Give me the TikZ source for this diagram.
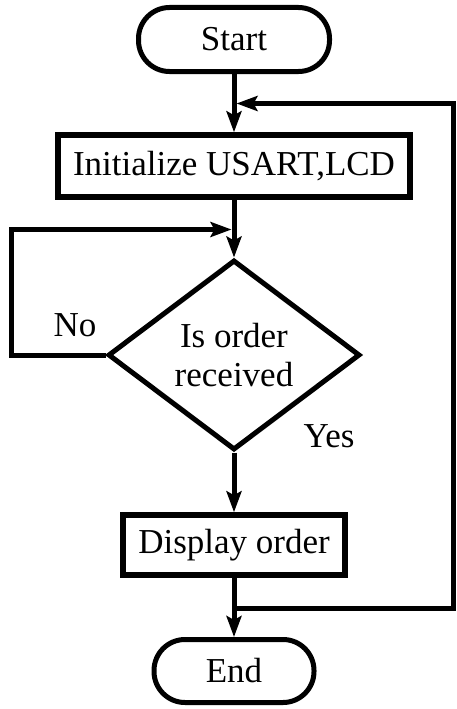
\documentclass[tikz,border=0pt]{standalone}
\usepackage{fontspec}
\setmainfont{Liberation Serif}
\usetikzlibrary{arrows.meta,shapes.geometric}
\begin{document}
\begin{tikzpicture}[x=1pt,y=-1pt,
  every node/.style={font=\fontsize{35}{38.5}\selectfont, inner sep=0pt},
  box/.style={draw, line width=5.5pt, rectangle},
  term/.style={draw, line width=5pt, rectangle, rounded corners=31pt},
  decision/.style={draw, line width=5pt, diamond, align=center},
  flow/.style={line width=5pt, -{Stealth[length=21pt,width=15pt,inset=4pt]}},
  label/.style={}
]
\useasboundingbox (0,0) rectangle (456,709);

% process steps
\node[term, minimum width=191pt, minimum height=64pt] (start) at (234,39.5) {Start};
\node[box, minimum width=352pt, minimum height=62pt] (init) at (234,166) {Initialize USART,LCD};
\node[decision, minimum width=252pt, minimum height=190pt] (dec) at (234,355) {Is order\\received};
\node[box, minimum width=222pt, minimum height=60pt] (disp) at (234,545) {Display order};
\node[term, minimum width=160pt, minimum height=63pt] (end) at (234,671) {End};

% branch labels
\node[label] (no) at (75,325) {No};
\node[label] (yes) at (329,436) {Yes};

% junction points and loop corners
\coordinate (topjoin) at (236.5,103.5);
\coordinate (midjoin) at (231.5,229.5);
\coordinate (botjoin) at (234,608);
\coordinate (leftcorner) at (11.5,229.5);
\coordinate (rightcorner) at (453.5,608);

% main flow
\draw[flow] (start.south) -- (init.north);
\draw[flow] (init.south) -- (dec.north);
\draw[flow] (dec.south) -- (disp.north);
\draw[flow] (disp.south) -- (end.north);

% loops
\draw[flow] (dec.west) -| (leftcorner) -- (midjoin);
\draw[flow] (botjoin) -- (rightcorner) |- (topjoin);
\end{tikzpicture}
\end{document}
